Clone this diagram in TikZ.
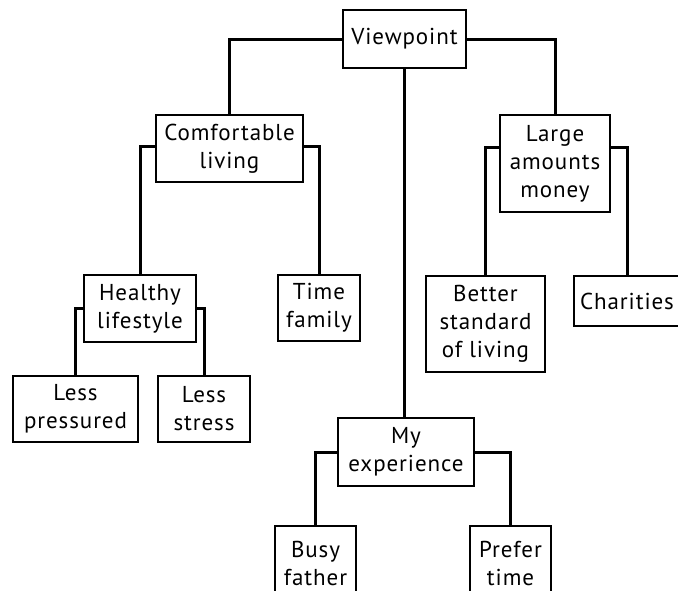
\documentclass[tikz,border=0pt]{standalone}
\usepackage{fontspec}
\setmainfont{PT Sans}[LetterSpace=4]
\begin{document}
\begin{tikzpicture}[x=1pt,y=-1pt]
\tikzset{
  box/.style={draw=black, line width=2.4pt, inner sep=0pt, align=center,
    font=\fontsize{23}{28}\selectfont, text=black, fill=white},
  link/.style={draw=black, line width=3pt, line join=miter}
}
\useasboundingbox (0,0) rectangle (678,590);
\fill[white] (0,0) rectangle (678,590);
\clip (0,0) rectangle (678,590);

% nodes
\node[box, minimum width=123pt, minimum height=58pt] (vp)  at (404.5,39)  {Viewpoint};
\node[box, minimum width=147pt, minimum height=67pt] (cl)  at (229.5,148.5) {Comfortable\\living};
\node[box, minimum width=110pt, minimum height=97pt] (lam) at (555,163.5) {Large\\amounts\\money};
\node[box, minimum width=112pt, minimum height=67pt] (hl)  at (140,308.5) {Healthy\\lifestyle};
\node[box, minimum width=82pt,  minimum height=66pt] (tf)  at (319,308)   {Time\\family};
\node[box, minimum width=125pt, minimum height=66pt] (lp)  at (75.5,409)  {Less\\pressured};
\node[box, minimum width=92pt,  minimum height=66pt] (ls)  at (204,409)   {Less\\stress};
\node[box, minimum width=119pt, minimum height=96pt] (bs)  at (485.5,324) {Better\\standard\\of living};
\node[box, minimum width=106pt, minimum height=50pt] (ch)  at (627,301)   {Charities};
\node[box, minimum width=136pt, minimum height=68pt] (my)  at (406,452)   {My\\experience};
\node[box, minimum width=81pt,  minimum height=74pt] (bf)  at (315.5,563) {Busy\\father};
\node[box, minimum width=81pt,  minimum height=74pt] (pt)  at (510.5,563) {Prefer\\time};

% connectors
\draw[link] (vp.west) -| (cl.north);
\draw[link] (vp.east) -| (lam.north);
\draw[link] (vp.south) -- (vp.south |- my.north);
\draw[link] ([yshift=2.5pt]cl.west) -| (hl.north);
\draw[link] ([yshift=2.5pt]cl.east) -| (tf.north);
\draw[link] ([yshift=16.5pt]lam.west) -| (bs.north);
\draw[link] ([yshift=16.5pt]lam.east) -| (ch.north);
\draw[link] (hl.west) -| (lp.north);
\draw[link] (hl.east) -| (ls.north);
\draw[link] (my.west) -| (bf.north);
\draw[link] (my.east) -| (pt.north);
\end{tikzpicture}
\end{document}
